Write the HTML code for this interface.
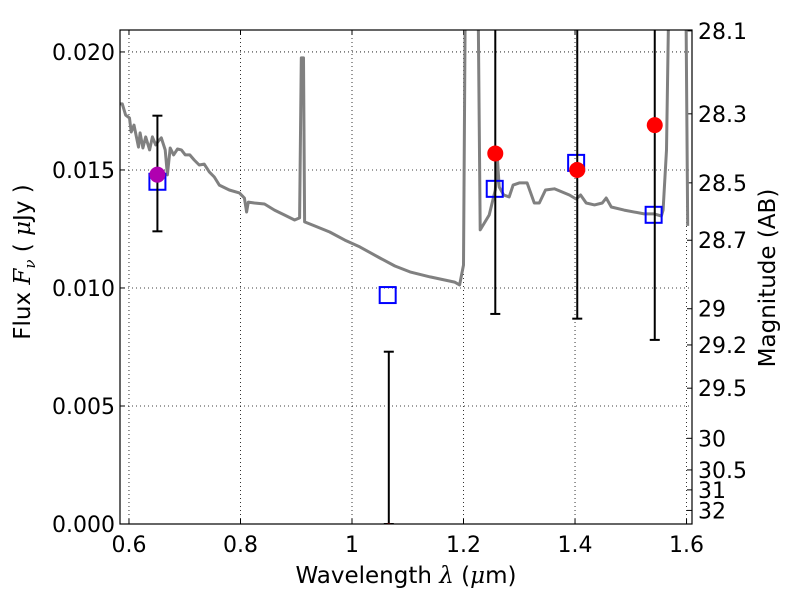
<!DOCTYPE html>
<html><head><meta charset="utf-8"><style>
html,body{margin:0;padding:0;background:#fff;}
svg{display:block;font-family:"DejaVu Sans","Liberation Sans",sans-serif;}
</style></head><body>
<svg id="c" width="800" height="600"></svg>
<script>
const specWave=[0.583,0.588,0.594,0.601,0.604,0.609,0.617,0.620,0.625,0.630,0.637,0.642,0.648,0.653,0.658,0.665,0.669,0.674,0.680,0.687,0.694,0.701,0.709,0.717,0.726,0.735,0.744,0.753,0.762,0.780,0.798,0.807,0.811,0.814,0.825,0.843,0.861,0.879,0.897,0.906,0.909,0.913,0.915,0.933,0.960,0.987,1.014,1.050,1.077,1.104,1.140,1.184,1.193,1.200,1.204,1.225,1.230,1.246,1.257,1.261,1.264,1.272,1.282,1.289,1.300,1.314,1.327,1.336,1.347,1.363,1.390,1.402,1.410,1.420,1.435,1.449,1.456,1.465,1.488,1.524,1.542,1.555,1.558,1.564,1.570,1.598,1.602];
const specFlux=[0.0178,0.0178,0.01733,0.0172,0.01661,0.0169,0.01597,0.01657,0.01593,0.0164,0.01585,0.0164,0.01606,0.01623,0.01636,0.01585,0.01479,0.01593,0.01564,0.01589,0.01585,0.01564,0.01564,0.01542,0.01521,0.01525,0.01492,0.0147,0.01436,0.01415,0.01403,0.01381,0.01322,0.01364,0.0136,0.01356,0.0133,0.01309,0.01288,0.01297,0.01975,0.01975,0.0128,0.01263,0.01237,0.01203,0.01174,0.01127,0.01093,0.01068,0.01047,0.01025,0.01013,0.01097,0.025,0.025,0.01246,0.01309,0.01415,0.01542,0.01428,0.01394,0.01386,0.01436,0.01445,0.01445,0.0136,0.0136,0.01415,0.0142,0.01394,0.01377,0.01394,0.0136,0.01352,0.0136,0.01381,0.01343,0.0133,0.01314,0.01314,0.01305,0.0133,0.01585,0.025,0.025,0.01263];
const obsWave=[0.651,1.066,1.257,1.404,1.543];
const obsFlux=[0.0148,-0.0003,0.0157,0.0150,0.0169];
const obsLo=[0.0124,0.0,0.0089,0.0087,0.0078];
const obsHi=[0.0173,0.0073,0.03,0.03,0.03];
const obsColor=["#b000b0","#f00","#f00","#f00","#f00"];
const modWave=[0.651,1.064,1.256,1.402,1.541];
const modFlux=[0.0145,0.0097,0.0142,0.0153,0.0131];
const xTicks=[0.6,0.8,1.0,1.2,1.4,1.6];
const xTickLabels=["0.6","0.8","1","1.2","1.4","1.6"];
const yTicks=[0,0.005,0.010,0.015,0.020];
const yTickLabels=["0.000","0.005","0.010","0.015","0.020"];
const magTicks=[28.1,28.3,28.5,28.7,29,29.2,29.5,30,30.5,31,32];

const L=120,R=692,T=30,B=524;
const xMin=0.5839,xMax=1.6098,yMin=0,yMax=0.02093;
const X=v=>L+(v-xMin)/(xMax-xMin)*(R-L);
const Y=v=>B-(v-yMin)/(yMax-yMin)*(B-T);
const NS="http://www.w3.org/2000/svg";
const svg=document.getElementById('c');
function mk(t,a,p){const e=document.createElementNS(NS,t);for(const k in a)e.setAttribute(k,a[k]);(p||svg).appendChild(e);return e;}
const defs=mk('defs',{});const cp=mk('clipPath',{id:'cp'},defs);mk('rect',{x:L,y:T,width:R-L,height:B-T},cp);
const grid=mk('g',{});


xTicks.forEach((v,i)=>{const x=X(v);
 mk('line',{x1:x,x2:x,y1:T,y2:B,stroke:'#000','stroke-dasharray':'1,3','stroke-width':0.8},grid);
 mk('line',{x1:x,x2:x,y1:B,y2:B-5,stroke:'#000'});mk('line',{x1:x,x2:x,y1:T,y2:T+5,stroke:'#000'});
 const t=mk('text',{x:x,y:B+28,'font-size':22,'text-anchor':'middle'});t.textContent=xTickLabels[i];
 
 
});
yTicks.forEach((v,i)=>{const y=Y(v);
 mk('line',{x1:L,x2:R,y1:y,y2:y,stroke:'#000','stroke-dasharray':'1,3','stroke-width':0.8},grid);
 mk('line',{x1:L,x2:L+5,y1:y,y2:y,stroke:'#000'});
 const t=mk('text',{x:L-5,y:y+8,'font-size':22,'text-anchor':'end'});t.textContent=yTickLabels[i];
 
 
});
magTicks.forEach(m=>{const f=Math.pow(10,(23.9-m)/2.5);const y=Y(f);
 mk('line',{x1:R,x2:R-5,y1:y,y2:y,stroke:'#000'});
 const t=mk('text',{x:R+6,y:y+8,'font-size':22});t.textContent=String(m);
 
 
});
const plot=mk('g',{'clip-path':'url(#cp)'});
const pts=specWave.map((w,i)=>X(w).toFixed(1)+','+Y(specFlux[i]).toFixed(1)).join(' ');
const sp=mk('polyline',{points:pts,fill:'none',stroke:'#808080','stroke-width':3,'stroke-linejoin':'round'},plot);


modWave.forEach((w,i)=>{const r=mk('rect',{x:X(w)-8,y:Y(modFlux[i])-8,width:16,height:16,fill:'none',stroke:'#00f','stroke-width':2},plot);
 
 
});
obsWave.forEach((w,i)=>{const x=X(w);const g=mk('g',{},plot);
 
 
 mk('line',{x1:x,x2:x,y1:Y(obsLo[i]),y2:Y(obsHi[i]),stroke:'#000','stroke-width':2},g);
 mk('line',{x1:x-5,x2:x+5,y1:Y(obsLo[i]),y2:Y(obsLo[i]),stroke:'#000','stroke-width':2},g);
 mk('line',{x1:x-5,x2:x+5,y1:Y(obsHi[i]),y2:Y(obsHi[i]),stroke:'#000','stroke-width':2},g);
 mk('circle',{cx:x,cy:Y(obsFlux[i]),r:8,fill:obsColor[i]},g);
});
const fr=mk('rect',{x:L,y:T,width:R-L,height:B-T,fill:'none',stroke:'#000','stroke-width':1.2});


const xl=mk('text',{x:406,y:583,'font-size':23,'text-anchor':'middle'});xl.innerHTML='Wavelength  <tspan font-style="italic" font-family="DejaVu Serif,serif">λ</tspan> (<tspan font-style="italic" font-family="DejaVu Serif,serif">μ</tspan>m)';


const yl=mk('text',{x:0,y:0,'font-size':23,'text-anchor':'middle',transform:'translate(30,262) rotate(-90)'});yl.innerHTML='Flux  <tspan font-style="italic" font-family="DejaVu Serif,serif">F</tspan><tspan font-style="italic" font-size="15" dy="5" font-family="DejaVu Serif,serif">ν</tspan><tspan dy="-5">  ( </tspan><tspan font-style="italic" font-family="DejaVu Serif,serif">μ</tspan>Jy )';


const rl=mk('text',{x:0,y:0,'font-size':23,'text-anchor':'middle',transform:'translate(775,278) rotate(-90)'});rl.textContent='Magnitude (AB)';


</script>
</body></html>
